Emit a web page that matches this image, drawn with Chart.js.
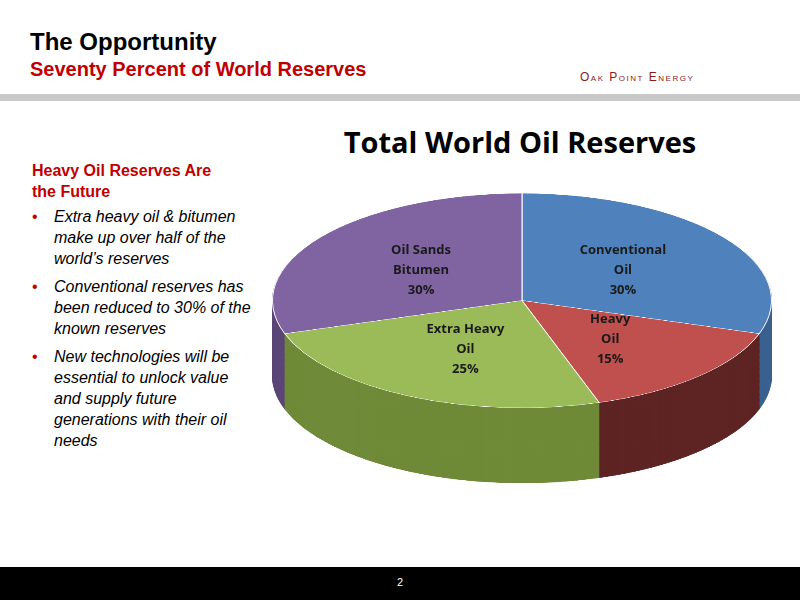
<!DOCTYPE html>
<html><head><meta charset="utf-8">
<script src="https://cdn.jsdelivr.net/npm/chart.js@4/dist/chart.umd.min.js"></script>
<style>
body{margin:0;width:800px;height:600px;position:relative;background:#fff;font-family:"Liberation Sans",Arial,sans-serif;overflow:hidden}
.h1{position:absolute;left:30px;top:28px;font-size:24px;font-weight:bold;color:#000}
.h2{position:absolute;left:30px;top:58px;font-size:20px;font-weight:bold;color:#c00000}
.bar{position:absolute;left:0;top:94px;width:800px;height:7px;background:#c8c8c8}
.logo{position:absolute;left:580px;top:70px;font-size:12px;letter-spacing:1.5px;color:#8b1a1a;font-variant:small-caps}
.side{position:absolute;left:32px;top:160px;width:222px;font-size:16px;line-height:21px}
.side b{color:#c00000;display:block;width:205px}
.side ul{margin:4px 0 0 0;padding-left:22px;list-style:none}
.side li{font-style:italic;margin-bottom:7px;position:relative}
.side li:before{content:"•";color:#c00000;font-style:normal;position:absolute;left:-22px}
.ctitle{position:absolute;left:280px;width:480px;top:122px;text-align:center;font-size:29px;font-weight:bold;font-family:"Open Sans",sans-serif}
#wrap{position:absolute;left:272px;top:193px;width:500px;height:680px;transform:scaleY(0.43);transform-origin:0 0}
.lbl{position:absolute;transform:translate(-50%,-50%);text-align:center;font-family:"Open Sans",sans-serif;font-weight:bold;font-size:13px;line-height:20px;color:#1a1a1a}
.foot{position:absolute;left:0;top:567px;width:800px;height:33px;background:#000;color:#fff;font-size:11px;text-align:center;line-height:30px}
</style></head><body>
<div class="h1">The Opportunity</div>
<div class="h2">Seventy Percent of World Reserves</div>
<div class="logo">Oak Point Energy</div>
<div class="bar"></div>
<div class="side"><b>Heavy Oil Reserves Are the Future</b>
<ul><li>Extra heavy oil &amp; bitumen make up over half of the world’s reserves</li>
<li>Conventional reserves has been reduced to 30% of the known reserves</li>
<li>New technologies will be essential to unlock value and supply future generations with their oil needs</li></ul></div>
<div class="ctitle">Total World Oil Reserves</div>
<div id="wrap"><canvas id="pie" width="500" height="680"></canvas></div>
<div id="labels"></div>
<div class="foot">2</div>
<script>
const categories = ["Conventional\nOil", "Heavy\nOil", "Extra Heavy\nOil", "Oil Sands\nBitumen"];
const shares = [30, 15, 25, 30];
const topColors = ["#4f81bd", "#c0504d", "#9bbb59", "#8064a2"];
const sideColors = ["#3a6190", "#5e2424", "#6f8a38", "#5c4678"];
const SQUASH = 0.43, DEPTH = 175;

const depthPlugin = {
	id: "depth",
	beforeDatasetsDraw(chart) {
		const ctx = chart.ctx;
		const arcs = chart.getDatasetMeta(0).data;
		for (let d = DEPTH; d > 0; d -= 2) {
			ctx.save();
			ctx.translate(0, d);
			arcs.forEach((arc, i) => {
				const old = arc.options.backgroundColor;
				arc.options.backgroundColor = sideColors[i];
				arc.options.borderColor = sideColors[i];
				arc.draw(ctx);
				arc.options.backgroundColor = old;
				arc.options.borderColor = "#fff";
			});
			ctx.restore();
		}
	},
	afterDraw(chart) {
		const box = document.getElementById("labels");
		box.innerHTML = "";
		chart.getDatasetMeta(0).data.forEach((arc, i) => {
			const p = arc.tooltipPosition();
			const el = document.createElement("div");
			el.className = "lbl";
			el.innerHTML = categories[i].replace("\n", "<br>") + "<br>" + shares[i] + "%";
			el.style.left = (272 + p.x) + "px";
			el.style.top = (193 + p.y * SQUASH) + "px";
			box.appendChild(el);
		});
	}
};

new Chart(document.getElementById("pie"), {
	type: "pie",
	data: {
		labels: categories,
		datasets: [{ data: shares, backgroundColor: topColors, borderColor: "#fff", borderWidth: 1 }]
	},
	options: {
		responsive: false,
		animation: false,
		layout: { padding: { bottom: 180 } },
		plugins: { legend: { display: false }, tooltip: { enabled: false } }
	},
	plugins: [depthPlugin]
});
</script>
</body></html>
